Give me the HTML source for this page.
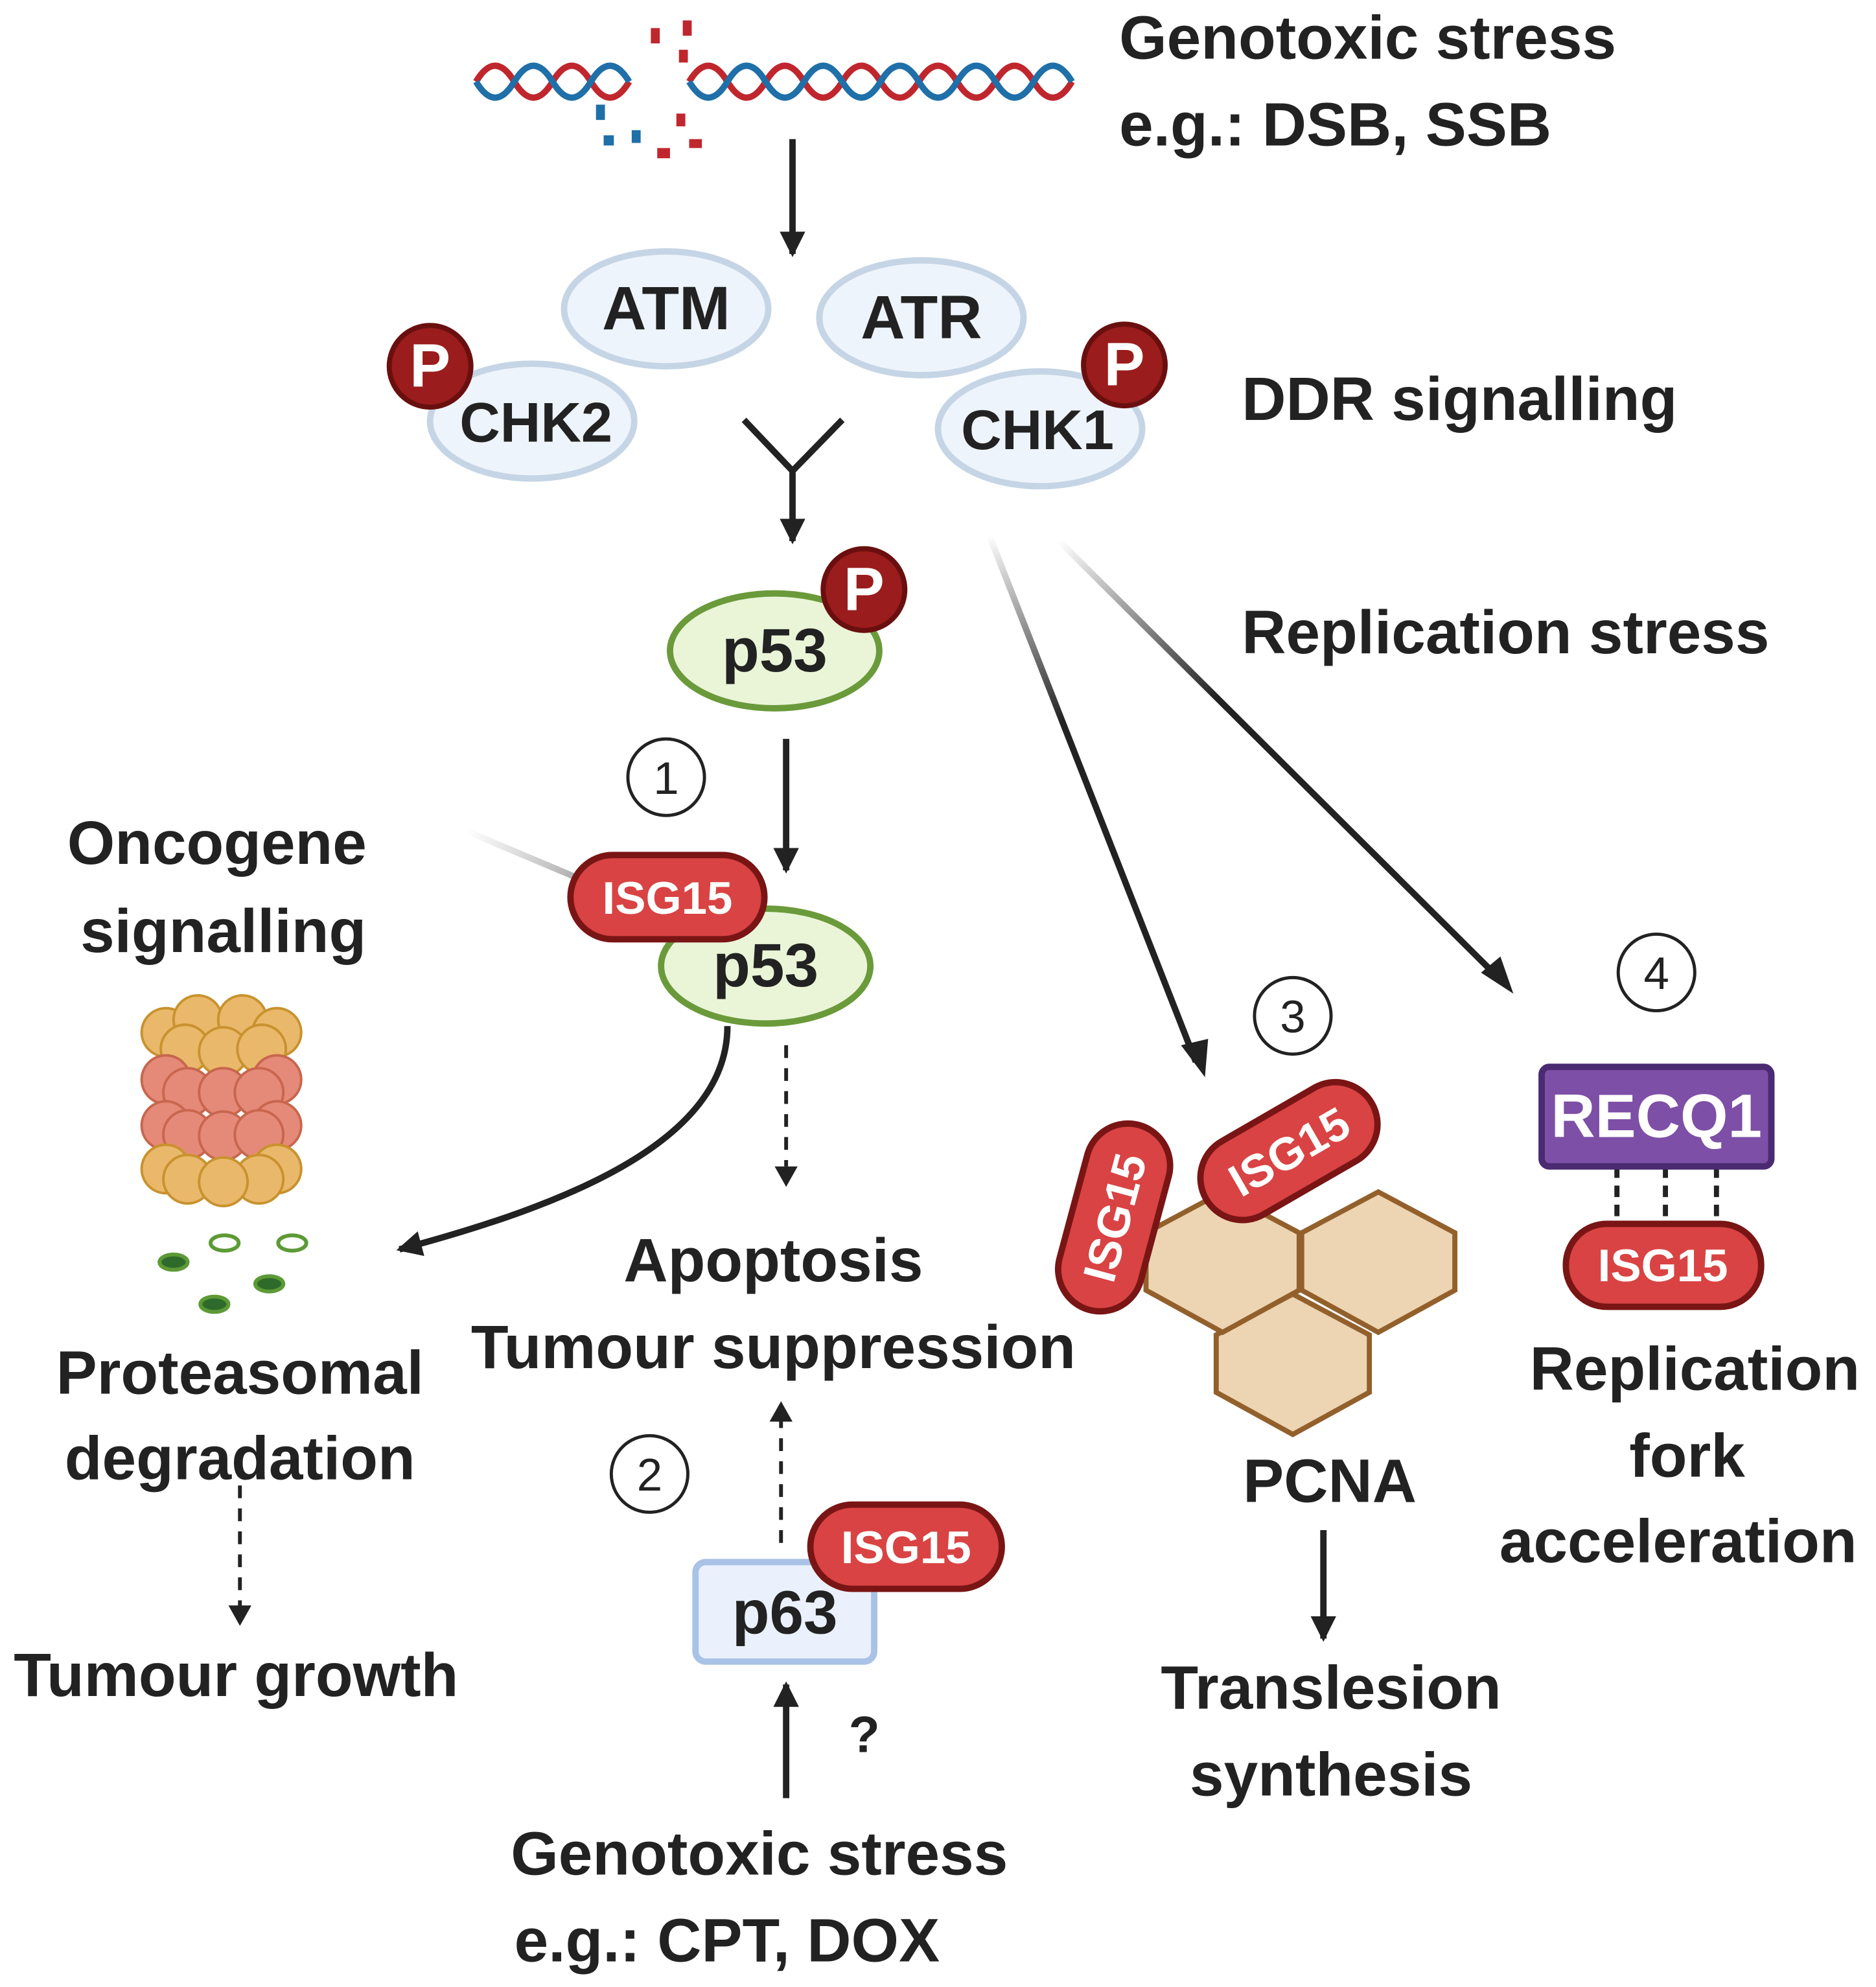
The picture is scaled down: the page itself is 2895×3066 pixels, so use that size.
<!DOCTYPE html>
<html><head><meta charset="utf-8"><style>html,body{margin:0;padding:0;background:#fff}svg{display:block}</style></head>
<body>
<svg width="2895" height="3066" viewBox="0 0 1470 1557" preserveAspectRatio="none" xmlns="http://www.w3.org/2000/svg" font-family="Liberation Sans, sans-serif" font-weight="bold">
<defs>
<marker id="ah" markerWidth="4" markerHeight="4" refX="3.5" refY="2" orient="auto" markerUnits="strokeWidth"><path d="M0,0 L4,2 L0,4 Z" fill="#222"/></marker>
<linearGradient id="g1" x1="780" y1="425" x2="945" y2="845" gradientUnits="userSpaceOnUse"><stop offset="0" stop-color="#222" stop-opacity="0"/><stop offset="0.35" stop-color="#222"/></linearGradient>
<linearGradient id="g2" x1="835" y1="430" x2="1188" y2="780" gradientUnits="userSpaceOnUse"><stop offset="0" stop-color="#222" stop-opacity="0"/><stop offset="0.35" stop-color="#222"/></linearGradient>
<linearGradient id="g3" x1="370" y1="657" x2="460" y2="695" gradientUnits="userSpaceOnUse"><stop offset="0" stop-color="#bbb" stop-opacity="0"/><stop offset="1" stop-color="#aaa"/></linearGradient>
</defs>
<g fill="#222" font-size="48" transform="translate(-5,-6)">
<g fill="none" stroke-width="5">
<path d="M378,70 q15,-25 30,0 t30,0 t30,0 t30,0" stroke="#c0262d"/>
<path d="M378,70 q15,25 30,0 t30,0 t30,0 t30,0" stroke="#1f6fa8"/>
<path d="M545,70 q15,-25 30,0 t30,0 t30,0 t30,0 t30,0 t30,0 t30,0 t30,0 t30,0 t30,0" stroke="#c0262d"/>
<path d="M545,70 q15,25 30,0 t30,0 t30,0 t30,0 t30,0 t30,0 t30,0 t30,0 t30,0 t30,0" stroke="#1f6fa8"/>
</g>
<g fill="#c0262d"><rect x="515" y="28" width="7" height="12"/><rect x="540" y="22" width="7" height="12"/><rect x="537" y="45" width="7" height="10"/><rect x="535" y="95" width="7" height="10"/><rect x="545" y="115" width="10" height="7"/><rect x="520" y="122" width="10" height="8"/></g>
<g fill="#1f6fa8"><rect x="472" y="88" width="7" height="12"/><rect x="478" y="112" width="8" height="8"/><rect x="500" y="108" width="7" height="10"/></g>
<text x="882" y="52">Genotoxic stress</text>
<text x="882" y="120">e.g.: DSB, SSB</text>
<g stroke="#222" stroke-width="5" fill="none">
<line x1="626" y1="115" x2="626" y2="205" marker-end="url(#ah)"/>
<polyline points="588,335 626,375 665,335"/>
<line x1="626" y1="375" x2="626" y2="430" marker-end="url(#ah)"/>
<line x1="621" y1="585" x2="621" y2="688" marker-end="url(#ah)"/>
<path d="M575,810 C575,900 450,950 318,985" marker-end="url(#ah)"/>
<line x1="1042" y1="1205" x2="1042" y2="1290" marker-end="url(#ah)"/>
<line x1="621" y1="1415" x2="621" y2="1326" marker-end="url(#ah)"/>
</g>
<g stroke-width="5" fill="none">
<line x1="780" y1="425" x2="942" y2="838" stroke="url(#g1)"/>
<line x1="835" y1="430" x2="1182" y2="775" stroke="url(#g2)"/>
<line x1="370" y1="657" x2="460" y2="695" stroke="url(#g3)"/>
</g>
<path d="M933,826 L948,846 L950,822 Z" fill="#222" stroke="#222" stroke-width="3"/>
<path d="M1168,768 L1188,781 L1180,758 Z" fill="#222" stroke="#222" stroke-width="3"/>
<g stroke="#222" stroke-width="3" stroke-dasharray="10,8" fill="none">
<line x1="621" y1="825" x2="621" y2="920"/>
<line x1="193" y1="1170" x2="193" y2="1265"/>
<line x1="617" y1="1215" x2="617" y2="1118"/>
</g>
<path d="M612,920 L630,920 L621,936 Z"/><path d="M184,1264 L202,1264 L193,1280 Z"/><path d="M608,1120 L626,1120 L617,1104 Z"/>
<g fill="#eef4fb" stroke="#c5d5e6" stroke-width="5">
<ellipse cx="527" cy="248" rx="80" ry="45"/><ellipse cx="727" cy="255" rx="80" ry="45"/>
<ellipse cx="422" cy="336" rx="80" ry="45"/><ellipse cx="820" cy="342" rx="80" ry="45"/>
</g>
<text x="527" y="264" text-anchor="middle">ATM</text><text x="727" y="271" text-anchor="middle">ATR</text>
<text x="425" y="352" text-anchor="middle" font-size="44">CHK2</text><text x="818" y="358" text-anchor="middle" font-size="44">CHK1</text>
<g fill="#9b1c1c" stroke="#6a0f0f" stroke-width="4"><circle cx="342" cy="293" r="32"/><circle cx="886" cy="292" r="32"/></g>
<g fill="#fff"><text x="342" y="309" text-anchor="middle">P</text><text x="886" y="308" text-anchor="middle">P</text></g>
<text x="978" y="335">DDR signalling</text>
<text x="978" y="518">Replication stress</text>
<g fill="#eaf5d8" stroke="#6a9a3a" stroke-width="5"><ellipse cx="612" cy="516" rx="82" ry="45"/><ellipse cx="605" cy="763" rx="82" ry="45"/></g>
<g fill="#9b1c1c" stroke="#6a0f0f" stroke-width="4"><circle cx="682" cy="468" r="32"/></g>
<text x="682" y="484" text-anchor="middle" fill="#fff">P</text>
<text x="612" y="532" text-anchor="middle">p53</text>
<text x="605" y="779" text-anchor="middle">p53</text>
<g fill="#fff" stroke="#222" stroke-width="2.5"><circle cx="527" cy="615" r="30"/><circle cx="514" cy="1161" r="30"/><circle cx="1018" cy="802" r="30"/><circle cx="1303" cy="768" r="30"/></g>
<g font-weight="normal" font-size="36"><text x="527" y="628" text-anchor="middle">1</text><text x="514" y="1174" text-anchor="middle">2</text><text x="1018" y="815" text-anchor="middle">3</text><text x="1303" y="781" text-anchor="middle">4</text></g>
<rect x="452" y="676" width="152" height="66" rx="33" fill="#d94343" stroke="#7a1515" stroke-width="5"/>
<text x="528" y="722" text-anchor="middle" fill="#fff" font-size="36">ISG15</text>
<text x="175" y="683" text-anchor="middle">Oncogene</text>
<text x="180" y="752" text-anchor="middle">signalling</text>
<g stroke="#c8922e" stroke-width="2" fill="#eab86a">
<circle cx="135" cy="815" r="19"/><circle cx="160" cy="805" r="19"/><circle cx="195" cy="805" r="19"/><circle cx="222" cy="815" r="19"/><circle cx="150" cy="828" r="19"/><circle cx="180" cy="830" r="19"/><circle cx="210" cy="828" r="19"/>
</g>
<g stroke="#c8664e" stroke-width="2" fill="#e58a78">
<circle cx="135" cy="852" r="19"/><circle cx="222" cy="852" r="19"/><circle cx="152" cy="862" r="19"/><circle cx="180" cy="862" r="19"/><circle cx="208" cy="862" r="19"/>
<circle cx="135" cy="888" r="19"/><circle cx="222" cy="888" r="19"/><circle cx="152" cy="895" r="19"/><circle cx="180" cy="896" r="19"/><circle cx="208" cy="895" r="19"/>
</g>
<g stroke="#c8922e" stroke-width="2" fill="#eab86a">
<circle cx="135" cy="922" r="19"/><circle cx="222" cy="922" r="19"/><circle cx="152" cy="930" r="19"/><circle cx="208" cy="930" r="19"/><circle cx="180" cy="932" r="19"/>
</g>
<g fill="#2e6b2a" stroke="#5d9a36" stroke-width="3">
<ellipse cx="141" cy="995" rx="11" ry="6"/><ellipse cx="181" cy="980" rx="11" ry="6" fill="#fff"/><ellipse cx="234" cy="980" rx="11" ry="6" fill="#fff"/><ellipse cx="216" cy="1012" rx="11" ry="6"/><ellipse cx="173" cy="1028" rx="11" ry="6"/>
</g>
<text x="193" y="1098" text-anchor="middle">Proteasomal</text>
<text x="193" y="1165" text-anchor="middle">degradation</text>
<text x="190" y="1335" text-anchor="middle">Tumour growth</text>
<text x="611" y="1010" text-anchor="middle">Apoptosis</text>
<text x="611" y="1078" text-anchor="middle">Tumour suppression</text>
<rect x="550" y="1230" width="140" height="78" rx="8" fill="#eaf1fc" stroke="#a9c2e6" stroke-width="5"/>
<rect x="640" y="1185" width="150" height="66" rx="33" fill="#d94343" stroke="#7a1515" stroke-width="5"/>
<text x="715" y="1231" text-anchor="middle" fill="#fff" font-size="36">ISG15</text>
<text x="620" y="1286" text-anchor="middle">p63</text>
<text x="670" y="1379" font-size="40">?</text>
<text x="600" y="1475" text-anchor="middle">Genotoxic stress</text>
<text x="408" y="1543">e.g.: CPT, DOX</text>
<g fill="#edd5b3" stroke="#93602c" stroke-width="4">
<polygon points="1018,1020 1078,1052 1078,1097 1018,1130 958,1097 958,1052"/>
<polygon points="963,940 1023,972 1023,1017 963,1050 903,1017 903,972"/>
<polygon points="1085,940 1145,972 1145,1017 1085,1050 1025,1017 1025,972"/>
</g>
<g fill="#d94343" stroke="#7a1515" stroke-width="5">
<rect x="-75" y="-33" width="150" height="66" rx="33" transform="translate(878,960) rotate(-75)"/>
<rect x="-75" y="-33" width="150" height="66" rx="33" transform="translate(1015,908) rotate(-30)"/>
</g>
<g fill="#fff" font-size="36">
<text x="0" y="13" text-anchor="middle" transform="translate(878,960) rotate(-75)">ISG15</text>
<text x="0" y="13" text-anchor="middle" transform="translate(1015,908) rotate(-30)">ISG15</text>
</g>
<text x="1047" y="1183" text-anchor="middle">PCNA</text>
<text x="1048" y="1345" text-anchor="middle">Translesion</text>
<text x="1048" y="1413" text-anchor="middle">synthesis</text>
<g stroke="#222" stroke-width="4" stroke-dasharray="9,6"><line x1="1272" y1="920" x2="1272" y2="965"/><line x1="1310" y1="920" x2="1310" y2="965"/><line x1="1350" y1="920" x2="1350" y2="965"/></g>
<rect x="1213" y="842" width="180" height="78" rx="6" fill="#7d4fa6" stroke="#4a2a70" stroke-width="5"/>
<text x="1303" y="897" text-anchor="middle" fill="#fff">RECQ1</text>
<rect x="1232" y="965" width="153" height="65" rx="32" fill="#d94343" stroke="#7a1515" stroke-width="5"/>
<text x="1308" y="1010" text-anchor="middle" fill="#fff" font-size="36">ISG15</text>
<text x="1333" y="1095" text-anchor="middle">Replication</text>
<text x="1327" y="1163" text-anchor="middle">fork</text>
<text x="1320" y="1230" text-anchor="middle">acceleration</text>
</g>
</svg>
</body></html>
